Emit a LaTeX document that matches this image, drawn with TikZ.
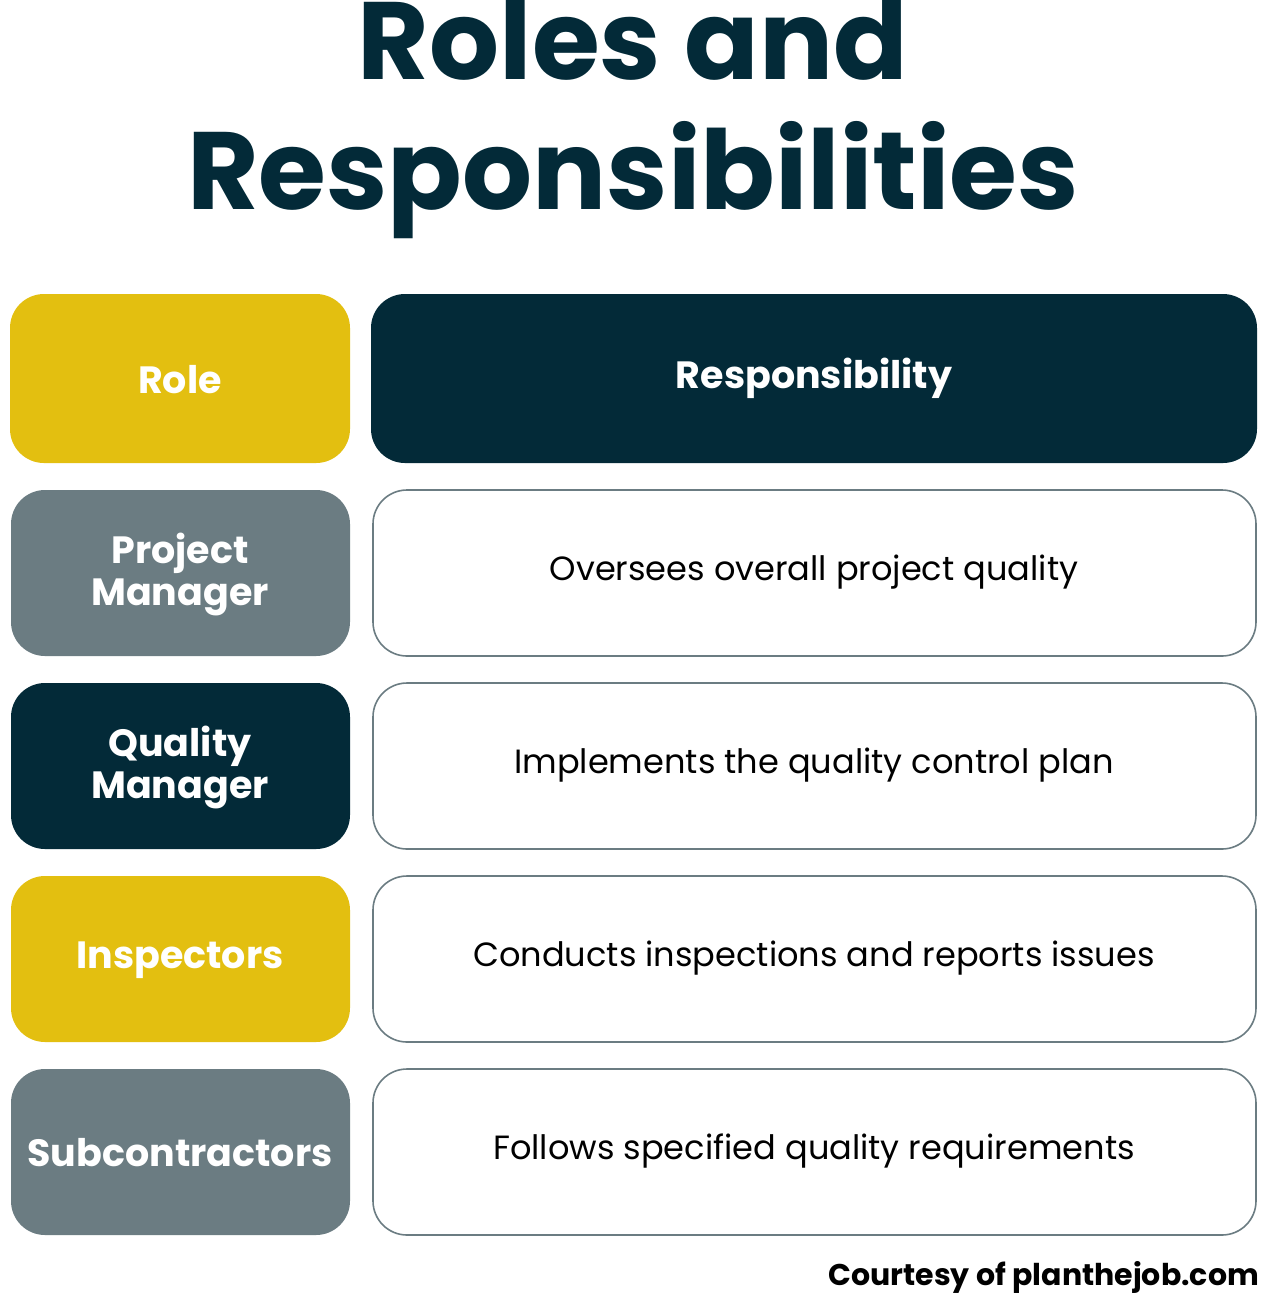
\documentclass[tikz,border=0pt]{standalone}
\usepackage{fontspec}
\setmainfont{Poppins}
\definecolor{yel}{HTML}{E3BF10}
\definecolor{dk}{HTML}{032A38}
\definecolor{gr}{HTML}{6B7C82}
\begin{document}
\begin{tikzpicture}[x=0.5pt,y=-0.5pt,
  rolebox/.style={rounded corners=17pt,text=white,font=\fontsize{19}{21}\selectfont\bfseries,align=center},
  respbox/.style={rounded corners=17pt,draw=gr,line width=0.8pt,fill=white,font=\fontsize{17}{20}\selectfont}]
\useasboundingbox (0,0) rectangle (1267,1314);
\node[font=\fontsize{55}{65}\selectfont\bfseries,text=dk,align=center] (title) at (633,118) {Roles and\\Responsibilities};
\fill[yel,rounded corners=17pt] (10,294) rectangle (350,463);
\node[rolebox] (h1) at (180,380) {Role};
\fill[dk,rounded corners=17pt] (371,294) rectangle (1257,463);
\node[rolebox] (h2) at (814,378) {Responsibility};
\foreach \t/\c/\r/\d [count=\i] in {490/gr/Project\\Manager/Oversees overall project quality,
  683/dk/Quality\\Manager/Implements the quality control plan,
  876/yel/Inspectors/Conducts inspections and reports issues,
  1069/gr/Subcontractors/Follows specified quality requirements}{
  \fill[\c,rounded corners=17pt] (11,\t) rectangle (350,\t+166);
  \node[rolebox] (r\i) at (180,\t+84) {\r};
  \draw[respbox] (373,\t) rectangle (1256,\t+166);
  \node[font=\fontsize{16.8}{20}\selectfont] (d\i) at (814,\t+82) {\d};
}
\node[anchor=east,font=\fontsize{15}{18}\selectfont\bfseries] (c) at (1266,1277) {Courtesy of planthejob.com};
\end{tikzpicture}
\end{document}
